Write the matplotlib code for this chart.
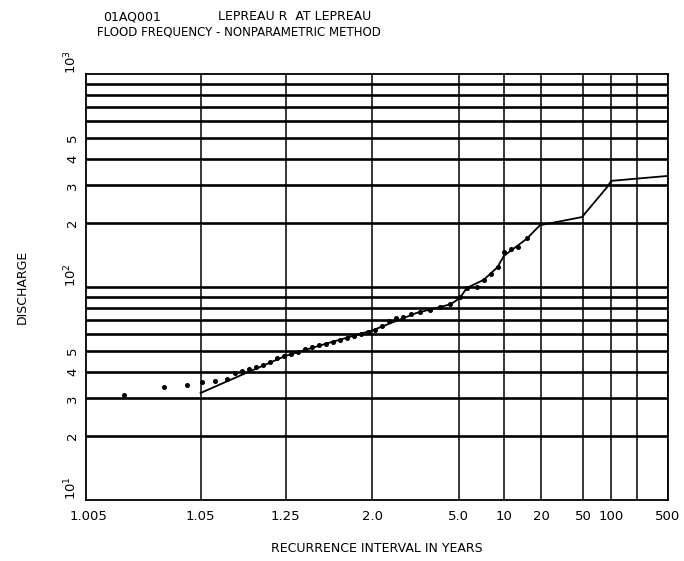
import math
import numpy as np
import matplotlib
matplotlib.use("Agg")
from matplotlib import pyplot as plt

# observed annual peaks (plotting positions)
obs_T = [1.008, 1.022, 1.037, 1.052, 1.068, 1.086, 1.101, 1.115, 1.131, 1.149,
         1.169, 1.191, 1.216, 1.244, 1.275, 1.309, 1.347, 1.389, 1.435, 1.487,
         1.544, 1.607, 1.678, 1.756, 1.843, 1.940, 2.047, 2.168, 2.301, 2.452,
         2.620, 2.838, 3.122, 3.492, 3.932, 4.460, 5.10, 5.62, 6.51, 7.24,
         8.09, 9.07, 10.03, 11.3, 12.9, 15.2]
obs_Q = [31.1, 33.9, 34.7, 35.8, 36.2, 37.0, 39.5, 40.3, 41.2, 42.1,
         43.0, 44.5, 46.4, 47.4, 48.5, 49.5, 51.2, 52.3, 53.4, 54.0,
         55.2, 56.4, 57.6, 58.9, 60.2, 61.5, 62.8, 65.6, 69.2, 71.5,
         72.3, 74.6, 76.3, 78.0, 80.5, 83.2, 89.8, 98.9, 100.0, 108.0,
         115.0, 124.0, 146.0, 151.0, 154.0, 170.0]

# nonparametric frequency curve
curve_T = [1.05, 1.104, 1.25, 1.5, 2.0, 3.0, 4.5, 5.1, 5.6, 7.2, 9.0, 10.0,
           15.0, 19.5, 48.6, 89.6, 100.0, 484.0]
curve_Q = [31.8, 37.8, 47.5, 54.5, 62.5, 75.5, 83.0, 89.0, 99.0, 108.0, 124.0,
           140.0, 168.0, 195.0, 213.0, 294.0, 315.0, 332.0]

grid_T = [1.05, 1.25, 2.0, 5.0, 10, 20, 50, 100, 200, 500]
xtick_T = [1.005, 1.05, 1.25, 2.0, 5.0, 10, 20, 50, 100, 500]
xtick_labels = ["1.005", "1.05", "1.25", "2.0", "5.0", "10", "20", "50", "100", "500"]

grid_Q = [20, 30, 40, 50, 60, 70, 80, 90, 100, 200, 300, 400, 500, 600, 700, 800, 900]
ytick_Q = [10, 20, 30, 40, 50, 100, 200, 300, 400, 500, 1000]
ytick_labels = ["$10^1$", "2", "3", "4", "5", "$10^2$", "2", "3", "4", "5", "$10^3$"]


def norm_ppf(p):
    # Acklam's rational approximation of the inverse normal CDF
    a = [-3.969683028665376e+01, 2.209460984245205e+02, -2.759285104469687e+02,
         1.383577518672690e+02, -3.066479806614716e+01, 2.506628277459239e+00]
    b = [-5.447609879822406e+01, 1.615858368580409e+02, -1.556989798598866e+02,
         6.680131188771972e+01, -1.328068155288572e+01]
    c = [-7.784894002430293e-03, -3.223964580411365e-01, -2.400758277161838e+00,
         -2.549732539343734e+00, 4.374664141464968e+00, 2.938163982698783e+00]
    d = [7.784695709041462e-03, 3.224671290700398e-01, 2.445134137142996e+00,
         3.754408661907416e+00]
    p = np.clip(np.asarray(p, dtype=float), 1e-12, 1 - 1e-12)
    out = np.empty_like(p)
    lo = p < 0.02425
    hi = p > 1 - 0.02425
    mid = ~(lo | hi)
    q = np.sqrt(-2 * np.log(p[lo]))
    out[lo] = (((((c[0]*q + c[1])*q + c[2])*q + c[3])*q + c[4])*q + c[5]) / \
              ((((d[0]*q + d[1])*q + d[2])*q + d[3])*q + 1)
    q = np.sqrt(-2 * np.log(1 - p[hi]))
    out[hi] = -(((((c[0]*q + c[1])*q + c[2])*q + c[3])*q + c[4])*q + c[5]) / \
               ((((d[0]*q + d[1])*q + d[2])*q + d[3])*q + 1)
    q = p[mid] - 0.5
    r = q * q
    out[mid] = (((((a[0]*r + a[1])*r + a[2])*r + a[3])*r + a[4])*r + a[5]) * q / \
               (((((b[0]*r + b[1])*r + b[2])*r + b[3])*r + b[4])*r + 1)
    return out


_erfc = np.vectorize(math.erfc)


def T_to_z(T):
    T = np.clip(np.asarray(T, dtype=float), 1 + 1e-9, None)
    return norm_ppf(1 - 1 / T)


def z_to_T(z):
    z = np.clip(np.asarray(z, dtype=float), -7, 7)
    return 1 / (0.5 * _erfc(z / math.sqrt(2)))


fig = plt.figure(figsize=(6.84, 5.61), dpi=100)
ax = fig.add_axes([0.1257, 0.1087, 0.8509, 0.7594])
ax.set_xscale("function", functions=(T_to_z, z_to_T))
ax.set_yscale("log")
ax.set_xlim(1.0027, 500)
ax.set_ylim(10, 1000)

for q in grid_Q:
    ax.axhline(q, color="k", lw=1.9, zorder=1)
for t in grid_T:
    ax.axvline(t, color="k", lw=1.1, zorder=1)

ax.plot(curve_T, curve_Q, color="k", lw=1.3, zorder=3)
ax.plot(obs_T, obs_Q, "o", color="k", ms=2.6, zorder=4)

ax.set_xticks(xtick_T, xtick_labels)
ax.set_yticks(ytick_Q, ytick_labels)
ax.minorticks_off()
ax.tick_params(length=0, labelsize=9.5)
ax.tick_params(axis="x", pad=7)
ax.tick_params(axis="y", pad=5)
for lab in ax.get_yticklabels():
    lab.set_rotation(90)
    if lab.get_text().startswith("$"):
        lab.set_va("bottom")
    else:
        lab.set_va("center")
ax.get_xticklabels()[0].set_ha("right")

for s in ax.spines.values():
    s.set_linewidth(1.3)

ax.set_xlabel("RECURRENCE INTERVAL IN YEARS", fontsize=9, labelpad=14)
ax.set_ylabel("DISCHARGE", fontsize=9, labelpad=24)

fig.text(103 / 684, 1 - 17 / 561, "01AQ001", fontsize=9, va="center")
fig.text(218 / 684, 1 - 17 / 561, "LEPREAU R  AT LEPREAU", fontsize=9, va="center")
fig.text(97 / 684, 1 - 32 / 561, "FLOOD FREQUENCY - NONPARAMETRIC METHOD",
         fontsize=8.5, va="center")

fig.savefig("out.png", dpi=100)
